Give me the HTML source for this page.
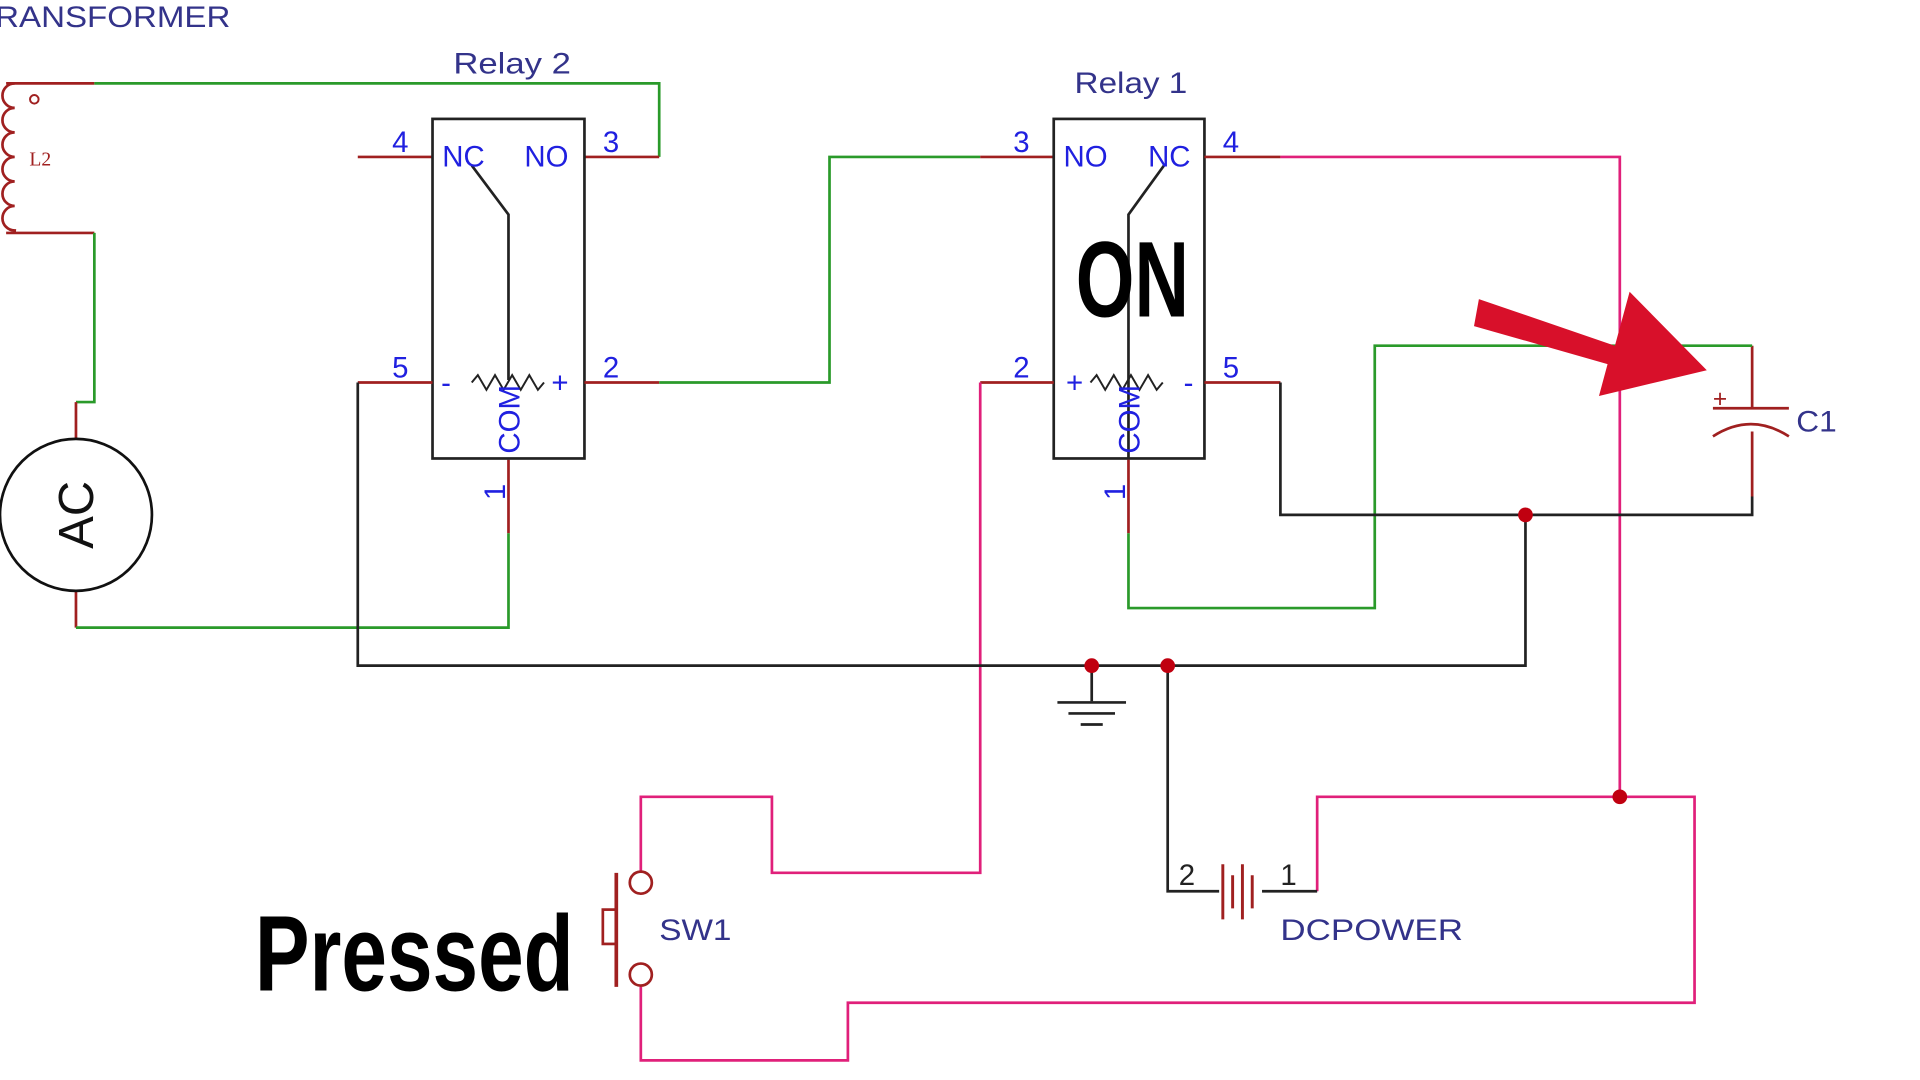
<!DOCTYPE html>
<html><head><meta charset="utf-8"><style>html,body{margin:0;padding:0;background:#fff;overflow:hidden}svg{display:block}</style></head><body>
<svg width="1920" height="1080" viewBox="0 0 1567 881" preserveAspectRatio="none" xmlns="http://www.w3.org/2000/svg" font-family="Liberation Sans, sans-serif">
<g fill="none" stroke-width="2.2">
<path d="M5,68 H77 M5,190 H77" stroke="#a02020"/>
<path d="M12,68 a10,10 0 0 0 0,20 a10,10 0 0 0 0,20 a10,10 0 0 0 0,20 a10,10 0 0 0 0,20 a10,10 0 0 0 0,20 a10,10 0 0 0 0,20 a10,10 0 0 0 0,2" stroke="#a02020"/>
<circle cx="28" cy="81" r="3.5" stroke="#a02020" stroke-width="1.6"/>
<path d="M77,68 H538 V128 M77,190 V328 H62" stroke="#2a9a2a"/>
<path d="M62,328 V358 M62,482 V512 M415,375 V435 M477,128 H538 M292,128 H353" stroke="#a02020"/>
<circle cx="62" cy="420" r="62" stroke="#111"/>
<path d="M62,512 H415 V435" stroke="#2a9a2a"/>
<rect x="353" y="97" width="124" height="277" stroke="#222"/>
<path d="M385,135 L415,175 V310" stroke="#222"/>
<path d="M292,312 H353 M477,312 H538" stroke="#a02020"/>
<path d="M385,312 l5,-6 l7,12 l7,-12 l7,12 l7,-12 l7,12 l7,-12 l7,12 l5,-6" stroke="#222" stroke-width="1.6"/>
<path d="M538,312 H677 V128 H800" stroke="#2a9a2a"/>
<path d="M800,128 H860" stroke="#a02020"/>
<rect x="860" y="97" width="123" height="277" stroke="#222"/>
<path d="M950,135 L921,175 V375" stroke="#222"/>
<path d="M983,128 H1045 M800,312 H860 M983,312 H1045 M921,375 V435 M1430,282 V333 M1430,352 V405" stroke="#a02020"/>
<path d="M890,312 l5,-6 l7,12 l7,-12 l7,12 l7,-12 l7,12 l7,-12 l7,12 l5,-6" stroke="#222" stroke-width="1.6"/>
<path d="M1045,128 H1322 V650 M800,312 V712 H630 V650 H523 V712 M1075,727 V650 H1383 V818 H692 V865 H523 V805" stroke="#e0207a"/>
<path d="M921,435 V496 H1122 V282 H1430" stroke="#2a9a2a"/>
<path d="M1045,312 V420 H1430 V405 M1245,420 V543 H292 V312 M891,543 V572 M953,543 V727 H995 M1030,727 H1075" stroke="#222"/>
<path d="M863,573 H919 M872,582 H910 M882,591 H900" stroke="#222"/>
<path d="M998,705 V750 M1014,705 V750" stroke="#a02020" stroke-width="2.4"/>
<path d="M1006,714 V741 M1022,714 V741" stroke="#a02020" stroke-width="2.4"/>
<path d="M1398,333 H1460" stroke="#a02020"/>
<path d="M1398,356 Q1429,336 1460,356" stroke="#a02020"/>
<circle cx="523" cy="720" r="9" stroke="#a02020" fill="#fff"/>
<circle cx="523" cy="795" r="9" stroke="#a02020" fill="#fff"/>
<path d="M503,712 V805" stroke="#a02020" stroke-width="3"/>
<rect x="492" y="742" width="11" height="28" stroke="#a02020"/>
</g>
<g fill="#c00010">
<circle cx="1245" cy="420" r="6"/><circle cx="891" cy="543" r="6"/><circle cx="953" cy="543" r="6"/><circle cx="1322" cy="650" r="6"/>
</g>
<polygon points="1207,244 1318,282 1330,238 1393,302 1305,323 1312,297 1203,266" fill="#d8102a"/>
<g fill="#33338a" font-size="24">
<text x="-4" y="22" textLength="192" lengthAdjust="spacingAndGlyphs">RANSFORMER</text>
<text x="370" y="60" textLength="96" lengthAdjust="spacingAndGlyphs">Relay 2</text>
<text x="877" y="76" textLength="92" lengthAdjust="spacingAndGlyphs">Relay 1</text>
<text x="538" y="767" textLength="59" lengthAdjust="spacingAndGlyphs">SW1</text>
<text x="1045" y="767" textLength="149" lengthAdjust="spacingAndGlyphs">DCPOWER</text>
<text x="1466" y="352" textLength="33" lengthAdjust="spacingAndGlyphs">C1</text>
</g>
<text x="24" y="135" font-family="Liberation Serif, serif" font-size="16" fill="#a02020">L2</text>
<text x="1398" y="332" font-size="20" fill="#a02020">+</text>
<g fill="#2020e0" font-size="24">
<text x="320" y="124">4</text><text x="361" y="136">NC</text><text x="428" y="136">NO</text><text x="492" y="124">3</text>
<text x="320" y="308">5</text><text x="492" y="308">2</text><text x="360" y="320">-</text><text x="450" y="320">+</text>
<text x="827" y="124">3</text><text x="868" y="136">NO</text><text x="937" y="136">NC</text><text x="998" y="124">4</text>
<text x="827" y="308">2</text><text x="998" y="308">5</text><text x="870" y="320">+</text><text x="966" y="320">-</text>
<text transform="translate(424,370) rotate(-90)">COM</text>
<text transform="translate(930,370) rotate(-90)">COM</text>
<text transform="translate(412,408) rotate(-90)">1</text>
<text transform="translate(918,408) rotate(-90)">1</text>
</g>
<g fill="#222" font-size="24"><text x="962" y="722">2</text><text x="1045" y="722">1</text></g>
<text transform="translate(76,420) rotate(-90)" text-anchor="middle" font-size="40" fill="#111">AC</text>
<text x="0" y="0" transform="translate(878,258) scale(0.7,1)" font-size="88" font-weight="bold" fill="#000">ON</text>
<text x="0" y="0" transform="translate(208,808) scale(0.76,1)" font-size="88" font-weight="bold" fill="#000">Pressed</text>
</svg>
</body></html>
